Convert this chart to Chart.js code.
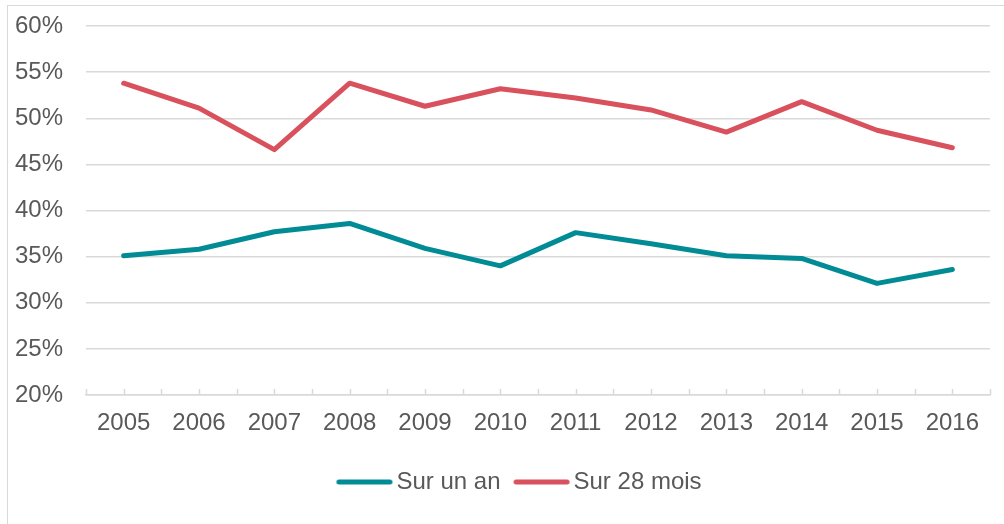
<!DOCTYPE html>
<html>
<head>
<meta charset="utf-8">
<script src="https://cdn.jsdelivr.net/npm/chart.js@4.4.1/dist/chart.umd.min.js"></script>
<style>
  html, body { margin: 0; padding: 0; background: #ffffff; overflow: hidden; }
  #frame { position: absolute; left: 7px; top: 5px; width: 1100px; height: 600px; border: 1.5px solid #d9d9d9; }
  #wrap { position: absolute; left: 0; top: 0; width: 1004px; height: 524px; }
</style>
</head>
<body>
<div id="frame"></div>
<div id="wrap"><canvas id="c"></canvas></div>
<script>
const categories = ['2005','2006','2007','2008','2009','2010','2011','2012','2013','2014','2015','2016'];
const surUnAn = [35.1, 35.8, 37.7, 38.6, 35.9, 34.0, 37.6, 36.4, 35.1, 34.8, 32.1, 33.6];
const sur28Mois = [53.8, 51.1, 46.6, 53.8, 51.3, 53.2, 52.2, 50.9, 48.5, 51.8, 48.7, 46.8];
const seriesNames = ['Sur un an', 'Sur 28 mois'];
const seriesColors = ['#008b95', '#d9515c'];
const yMin = 20, yMax = 60, yStep = 5;

const textColor = '#595959';
const gridColor = '#d9d9d9';
const font = { family: "'Liberation Sans', Arial, sans-serif", size: 24 };

// legend line samples (image point styles)
function makeLegendLine(color) {
  const c = document.createElement('canvas');
  c.width = 64; c.height = 10;
  const g = c.getContext('2d');
  g.strokeStyle = color; g.lineWidth = 5; g.lineCap = 'round';
  g.beginPath(); g.moveTo(9.5, 5); g.lineTo(60.5, 5); g.stroke();
  return c;
}
const legendImgs = seriesColors.map(makeLegendLine);

const xTicksPlugin = {
  id: 'xTicks',
  afterDraw(chart) {
    const xs = chart.scales.x;
    const ctx = chart.ctx;
    const yb = chart.chartArea.bottom;
    ctx.save();
    ctx.strokeStyle = gridColor;
    ctx.lineWidth = 1.5;
    for (let v = -0.5; v <= categories.length - 0.5 + 0.001; v += 0.5) {
      const px = Math.round(xs.getPixelForValue(v)) + 0.5;
      ctx.beginPath();
      ctx.moveTo(px, yb);
      ctx.lineTo(px, yb - 6);
      ctx.stroke();
    }
    ctx.restore();
  }
};

const legendShift = {
  id: 'legendShift',
  afterLayout(chart) {
    const lg = chart.legend;
    if (lg) { lg.left += 25; lg.right += 25; }
  }
};

new Chart(document.getElementById('c'), {
  type: 'line',
  data: {
    labels: categories,
    datasets: [
      { label: seriesNames[0], data: surUnAn, borderColor: seriesColors[0], backgroundColor: seriesColors[0],
        borderWidth: 5, pointRadius: 0, tension: 0, borderCapStyle: 'round', borderJoinStyle: 'round' },
      { label: seriesNames[1], data: sur28Mois, borderColor: seriesColors[1], backgroundColor: seriesColors[1],
        borderWidth: 5, pointRadius: 0, tension: 0, borderCapStyle: 'round', borderJoinStyle: 'round' }
    ]
  },
  options: {
    responsive: true,
    maintainAspectRatio: false,
    animation: false,
    layout: { padding: { top: 26, right: 14, bottom: 20, left: 0 } },
    plugins: {
      tooltip: { enabled: false },
      legend: {
        position: 'bottom',
        labels: {
          usePointStyle: true,
          pointStyleWidth: 46,
          boxHeight: 5,
          padding: 15,
          color: textColor,
          font: font,
          generateLabels(chart) {
            const items = Chart.defaults.plugins.legend.labels.generateLabels(chart);
            items.forEach((it, i) => { it.pointStyle = legendImgs[i]; });
            return items;
          }
        }
      }
    },
    scales: {
      x: {
        offset: true,
        grid: { display: false, drawTicks: false },
        border: { display: true, color: gridColor, width: 1.5 },
        ticks: { color: textColor, font: font, padding: 14, maxRotation: 0 },
        afterFit(scale) { scale.height = 60; }
      },
      y: {
        min: yMin, max: yMax,
        grid: { color: gridColor, lineWidth: 1.5, drawTicks: false },
        border: { display: false },
        ticks: { stepSize: yStep, color: textColor, font: font, padding: 23,
                 callback: v => v + '%' },
        afterFit(scale) { scale.width = 86; scale.paddingTop = 0; scale.paddingBottom = 0; }
      }
    }
  },
  plugins: [xTicksPlugin, legendShift]
});
</script>
</body>
</html>
